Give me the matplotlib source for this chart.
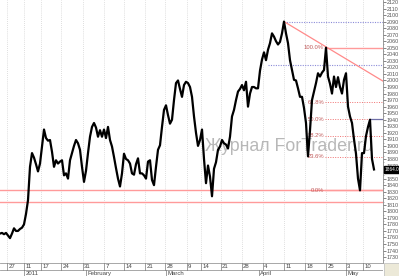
import matplotlib
matplotlib.use("Agg")
import matplotlib.pyplot as plt
from matplotlib.patches import Rectangle
import numpy as np

# closing prices, one value every bar step
close = [1766, 1767, 1765, 1767, 1763, 1759, 1766, 1774, 1770, 1770,
         1773, 1775, 1780, 1796, 1817, 1868, 1889, 1882, 1872, 1861,
         1873, 1899, 1925, 1912, 1908, 1909, 1891, 1868, 1878, 1873,
         1876, 1878, 1855, 1858, 1850, 1878, 1889, 1900, 1909, 1904,
         1894, 1868, 1845, 1862, 1889, 1914, 1929, 1935, 1928, 1914,
         1924, 1914, 1925, 1912, 1929, 1909, 1899, 1883, 1866, 1850,
         1838, 1858, 1888, 1880, 1878, 1873, 1858, 1856, 1872, 1881,
         1858, 1858, 1855, 1850, 1876, 1878, 1848, 1840, 1868, 1894,
         1901, 1929, 1955, 1962, 1947, 1934, 1940, 1970, 1996, 2000,
         1987, 1975, 1993, 1998, 1996, 1990, 1975, 1945, 1920, 1900,
         1909, 1925, 1880, 1843, 1870, 1853, 1823, 1865, 1875, 1894,
         1899, 1909, 1904, 1902, 1896, 1914, 1945, 1955, 1970, 1983,
         1987, 1993, 1985, 1998, 1960, 1980, 1990, 1990, 1988, 1988,
         2015, 2032, 2043, 2031, 2047, 2057, 2072, 2067, 2060, 2055,
         2059, 2072, 2090, 2072, 2057, 2031, 2016, 2001, 2000, 1988,
         1975, 1975, 1958, 1935, 1884, 1924, 1970, 1983, 1996, 2011,
         2006, 2012, 2016, 2050, 2006, 1995, 1980, 2006, 1990, 2005,
         1990, 1980, 2001, 2011, 1960, 1945, 1935, 1910, 1888, 1850,
         1832, 1889, 1889, 1915, 1929, 1940, 1880, 1864]

week_ticks = [3.65, 12, 20.35, 30.5, 41.35, 52, 62.15, 72.5, 82.65, 93.35,
              100.5, 110.35, 120.85, 131.35, 142, 152.5, 163, 172.85, 181.65]
week_labels = ["27", "11", "17", "24", "31", "7", "14", "21", "28", "9",
               "14", "21", "28", "4", "11", "18", "25", "3", "10"]
month_pos = [12, 42.9, 83, 129.4, 172.9]
month_labels = ["2011", "February", "March", "April", "May"]

support_levels = [1832, 1815]
fib_high = 2050
fib_low = 1832
fib_ratios = [1.0, 0.618, 0.5, 0.382, 0.236, 0.0]
fib_start = 162.5
peak_idx = 142
peak_level = 2090
mid_idx = 134
mid_level = 2024
trend_end = 1999
bounce_idx = 185
bounce_level = 1941

small = "Liberation Sans"

W, H = 399, 276
fig = plt.figure(figsize=(W / 100, H / 100), dpi=100)
fig.patch.set_facecolor("white")

x_max = 191.5
ax = fig.add_axes([0, 13 / H, 383 / W, 263 / H])
ax.set_xlim(0, x_max)
ax.set_ylim(1721, 2123)

# week grid
for t in week_ticks:
    ax.axvline(t, color="#d4d4d4", lw=0.6, ls=(0, (1, 1.5)), zorder=0)

# support lines
for lv in support_levels:
    ax.axhline(lv, color="#ff9a9a", lw=1.0, zorder=1)

# fibonacci levels
for r in fib_ratios:
    lv = fib_low + r * (fib_high - fib_low)
    if r in (1.0, 0.0):
        ax.plot([fib_start, x_max], [lv, lv], color="#ff9a9a", lw=1.0, zorder=1)
    else:
        ax.plot([fib_start, x_max], [lv, lv], color="#f07070", lw=0.7,
                ls=(0, (1, 1.5)), zorder=1)
    ax.text(fib_start - 0.5, lv, "%.1f%%" % (r * 100), fontsize=4.2, family=small,
            color="#c05a5a", ha="right", va="center", zorder=3)

# blue levels and trend line
ax.plot([peak_idx, x_max], [peak_level, peak_level], color="#8c8cd8", lw=0.8,
        ls=(0, (1, 1.2)), zorder=1)
ax.plot([mid_idx, x_max], [mid_level, mid_level], color="#8c8cd8", lw=0.8,
        ls=(0, (1, 1.2)), zorder=1)
ax.plot([bounce_idx, x_max], [bounce_level, bounce_level], color="#7070a8", lw=0.9, zorder=1)
ax.plot([peak_idx, x_max], [peak_level, trend_end], color="#ff8a8a", lw=0.9, zorder=1)

# watermark
ax.text(102.5, 1899, "Журнал ForTrader.ru", fontsize=12.8, color="#b8b8b8",
        family=small, ha="left", va="center", zorder=4)

# price
x = np.arange(len(close))
ax.plot(x, close, color="black", lw=1.6, zorder=5)

# right axis
ax.yaxis.tick_right()
ax.set_yticks(np.arange(1730, 2121, 10))
ax.set_yticks(np.arange(1725, 2121, 5), minor=True)
ax.tick_params(axis="y", which="major", labelsize=3.9, length=2, width=0.5,
               pad=0.8, colors="#555555")
ax.tick_params(axis="y", which="minor", length=1, width=0.4, colors="#777777")
for lab in ax.get_yticklabels():
    lab.set_family(small)
    # the last-price box covers this label
    if lab.get_text() == "1860":
        lab.set_visible(False)
ax.set_xticks([])
for s in ["top", "left", "bottom"]:
    ax.spines[s].set_visible(False)
ax.spines["right"].set_color("#888888")
ax.spines["right"].set_linewidth(0.6)

# last price box
ax.text(x_max + 0.9, close[-1], "%.1f" % close[-1], fontsize=3.4, color="white",
        family=small, ha="left", va="center", clip_on=False, zorder=6,
        bbox=dict(boxstyle="square,pad=0.15", fc="black", ec="black"))

# bottom date strip
bx = fig.add_axes([0, 0, 383 / W, 13 / H])
bx.set_xlim(0, x_max)
bx.set_ylim(0, 13)
bx.axis("off")
bx.plot([0, x_max], [13.5, 13.5], color="#999999", lw=0.6)
bx.plot([0, x_max], [6, 6], color="#999999", lw=0.6)
for t, lab in zip(week_ticks, week_labels):
    bx.plot([t, t], [6, 13.5], color="#777777", lw=0.5)
    bx.text(t + 0.7, 9.6, lab, fontsize=4.3, family=small, color="#444444",
            ha="left", va="center")
for p, lab in zip(month_pos, month_labels):
    bx.plot([p, p], [0, 6], color="#777777", lw=0.5)
    bx.text(p + 0.7, 2.8, lab, fontsize=4.3, family=small, color="#444444",
            ha="left", va="center")

# corner box
fig.patches.append(Rectangle((384 / W, 0), 15 / W, 13 / H, transform=fig.transFigure,
                             fc="#ece9d8", ec="#bbbbbb", lw=0.5))

fig.savefig("out.png", dpi=100)
